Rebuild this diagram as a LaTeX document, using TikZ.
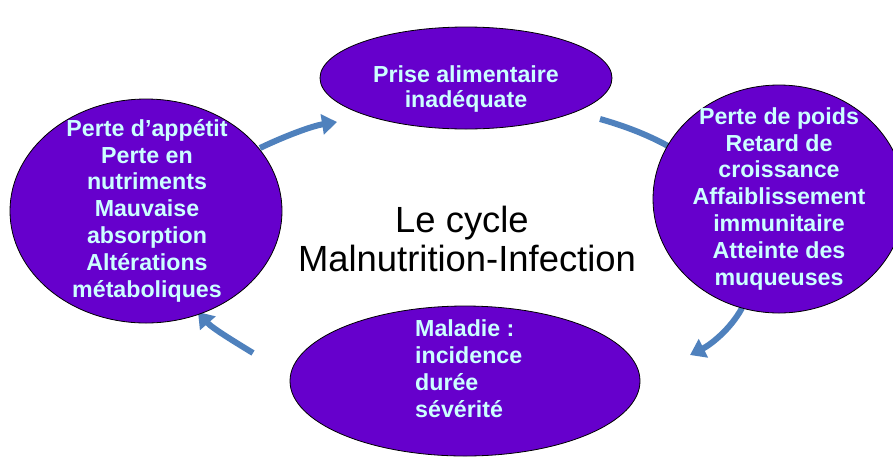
\documentclass[tikz,border=0pt]{standalone}
\usepackage{fontspec}
\setmainfont{Liberation Sans}
\usetikzlibrary{shapes.geometric,arrows.meta,backgrounds}
\definecolor{blobfill}{HTML}{6600CC}
\definecolor{blobtext}{HTML}{CCFFFF}
\definecolor{arrowblue}{HTML}{4F81BD}
\tikzset{
  blob/.style={ellipse, draw=black, line width=0.8pt, fill=blobfill, inner sep=0pt},
  blobtxt/.style={text=blobtext, font=\bfseries\fontsize{23.2}{26.8}\selectfont, inner sep=0pt, anchor=base},
  cyclearrow/.style={draw=arrowblue, line width=6pt},
  cycletip/.style={cyclearrow, -{Triangle[length=15pt,width=20pt]}},
}
\begin{document}
\begin{tikzpicture}[x=1pt,y=-1pt]
\useasboundingbox (0,0) rectangle (893,456);
% ellipses
\node[blob, minimum width=292, minimum height=102] (top) at (466,78) {};
\node[blob, minimum width=272, minimum height=224] (left) at (146,211) {};
\node[blob, minimum width=252, minimum height=228] (right) at (779,199) {};
\node[blob, minimum width=350, minimum height=150] (bottom) at (465,381) {};
% texts (anchored at the baseline of their last line)
\node[blobtxt, align=center, font=\bfseries\fontsize{23.2}{25}\selectfont] (toptxt) at (466,107) {Prise alimentaire\\inadéquate};
\node[blobtxt, align=center] (lefttxt) at (147,297) {Perte d’appétit\\Perte en\\nutriments\\Mauvaise\\absorption\\Altérations\\métaboliques};
\node[blobtxt, align=center] (righttxt) at (779,285) {Perte de poids\\Retard de\\croissance\\Affaiblissement\\immunitaire\\Atteinte des\\muqueuses};
\node[blobtxt, align=left, anchor=base west] (bottomtxt) at (415,417) {Maladie :\\incidence\\durée\\sévérité};
\node[font=\fontsize{36.4}{39}\selectfont, align=center, anchor=base, inner sep=0pt] (title) at (467,271) {Le cycle\hspace*{10pt}\\Malnutrition-Infection};
% arrows
\coordinate (a1s) at (260,148); \coordinate (a1e) at (337,122);
\coordinate (a2s) at (600,119); \coordinate (a2e) at (668,146);
\coordinate (a3s) at (742,308); \coordinate (a3e) at (690,355);
\coordinate (a4s) at (253,353); \coordinate (a4e) at (198,312);
\begin{scope}[on background layer]
\draw[cycletip] (a1s) .. controls (285,136) and (312,126) .. (a1e);
\draw[cyclearrow] (a2s) .. controls (625,126) and (648,135) .. (a2e);
\draw[cycletip] (a3s) .. controls (730,330) and (710,345) .. (a3e);
\draw[cycletip] (a4s) .. controls (235,342) and (212,328) .. (a4e);
\end{scope}
\end{tikzpicture}
\end{document}
